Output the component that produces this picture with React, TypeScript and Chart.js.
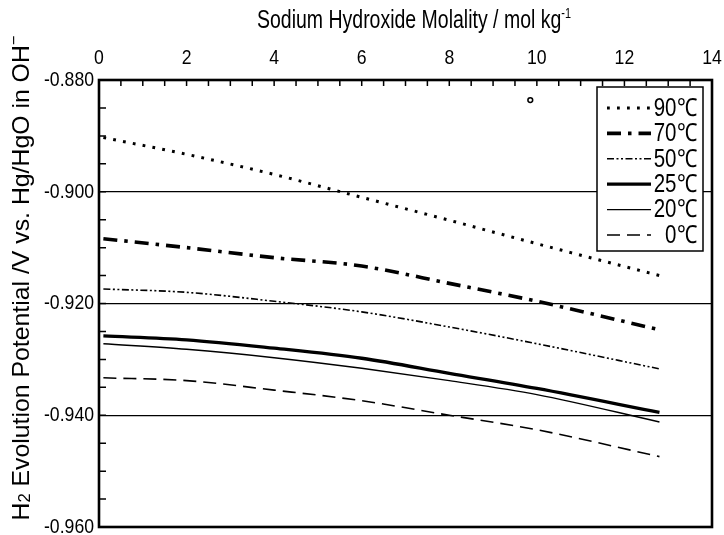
import { useEffect, useRef } from "react";
import { Chart, registerables } from "chart.js";

Chart.register(...registerables);

const FONT = "'Liberation Sans', Arial, sans-serif";

// NaOH molality (mol/kg) at which each curve is sampled
const molality = [0.1, 2, 4, 6, 8, 10, 12.8];

// H2 evolution potential (V vs. Hg/HgO) per temperature
const temperatures = ["90℃", "70℃", "50℃", "25℃", "20℃", "0℃"];
const potential90 = [-0.8903, -0.8933, -0.8969, -0.901, -0.9051, -0.9093, -0.915];
const potential70 = [-0.9084, -0.91, -0.9118, -0.9133, -0.9164, -0.9196, -0.9247];
const potential50 = [-0.9174, -0.918, -0.9196, -0.9215, -0.9242, -0.9272, -0.9317];
const potential25 = [-0.9258, -0.9265, -0.928, -0.9298, -0.9325, -0.9352, -0.9395];
const potential20 = [-0.9272, -0.9282, -0.9297, -0.9316, -0.9338, -0.9363, -0.9412];
const potential0 = [-0.9333, -0.9338, -0.9355, -0.9374, -0.94, -0.9426, -0.9474];
const potentials = [potential90, potential70, potential50, potential25, potential20, potential0];

// small open circle near the top of the plot
const markerX = [9.85];
const markerY = [-0.8836];

// axes
const xMin = 0;
const xMax = 14;
const xStep = 2;
const xMinorStep = 0.5;
const yMin = -0.96;
const yMax = -0.88;
const yStep = 0.02;
const yMinorStep = 0.005;

const xTitle = "Sodium Hydroxide Molality / mol kg";
const xTitleSup = "-1";
const yTitleLead = "H";
const yTitleSub = "2";
const yTitleBody = " Evolution Potential /V vs. Hg/HgO in OH";
const yTitleSup = "−";

const lineStyles = [
  { width: 3, dash: [2.8, 7.2] },
  { width: 3.6, dash: [14, 7, 3.5, 7] },
  { width: 1.6, dash: [7, 2.5, 2, 2.5, 2, 2.5] },
  { width: 3.3, dash: [] as number[] },
  { width: 1.4, dash: [] as number[] },
  { width: 1.6, dash: [13, 7] },
];

type Part = { text: string; size: number; dy: number };

// draws mixed-size text centred on (cx, cy), squeezed to the given width
function drawRich(ctx: CanvasRenderingContext2D, parts: Part[], cx: number, cy: number, width: number) {
  let total = 0;
  const widths = parts.map((p) => {
    ctx.font = `${p.size}px ${FONT}`;
    const w = ctx.measureText(p.text).width;
    total += w;
    return w;
  });
  ctx.save();
  ctx.translate(cx, cy);
  ctx.scale(width / total, 1);
  let x = -total / 2;
  ctx.textBaseline = "middle";
  ctx.textAlign = "left";
  parts.forEach((p, i) => {
    ctx.font = `${p.size}px ${FONT}`;
    ctx.fillText(p.text, x, p.dy);
    x += widths[i];
  });
  ctx.restore();
}

// narrow text: regular face compressed horizontally
function drawNarrow(
  ctx: CanvasRenderingContext2D,
  text: string,
  x: number,
  y: number,
  align: CanvasTextAlign,
  size: number,
  sx: number
) {
  ctx.save();
  ctx.translate(x, y);
  ctx.scale(sx, 1);
  ctx.font = `${size}px ${FONT}`;
  ctx.textAlign = align;
  ctx.textBaseline = "middle";
  ctx.fillText(text, 0, 0);
  ctx.restore();
}

const decorPlugin = {
  id: "decor",
  afterDatasetsDraw(chart: any) {
    const { ctx, chartArea: a, scales } = chart;
    const xs = scales.x;
    const ys = scales.y;
    ctx.save();
    ctx.strokeStyle = "#000";
    ctx.fillStyle = "#000";

    // inward minor ticks on the top and left axes
    ctx.lineWidth = 1.5;
    ctx.beginPath();
    for (let v = xMin; v <= xMax + 1e-9; v += xMinorStep) {
      const px = xs.getPixelForValue(v);
      ctx.moveTo(px, a.top);
      ctx.lineTo(px, a.top + 6);
    }
    const nY = Math.round((yMax - yMin) / yMinorStep);
    for (let k = 0; k <= nY; k++) {
      const py = ys.getPixelForValue(yMin + k * yMinorStep);
      ctx.moveTo(a.left, py);
      ctx.lineTo(a.left + 7, py);
    }
    ctx.stroke();

    // legend box
    const lx = 597, ly = 87, lw = 106, lh = 164;
    ctx.fillStyle = "#fff";
    ctx.fillRect(lx, ly, lw, lh);
    ctx.lineWidth = 1.5;
    ctx.strokeRect(lx, ly, lw, lh);
    ctx.fillStyle = "#000";
    chart.data.datasets.forEach((ds: any, i: number) => {
      if (ds.type === "scatter") return;
      const y = 108 + i * 25.4;
      ctx.save();
      ctx.lineWidth = ds.borderWidth;
      ctx.setLineDash(ds.borderDash || []);
      ctx.beginPath();
      ctx.moveTo(607, y);
      ctx.lineTo(651, y);
      ctx.stroke();
      ctx.restore();
      drawNarrow(ctx, ds.label, 697, y + 1, "right", 25, 0.82);
    });

    // frame
    ctx.lineWidth = 2.6;
    ctx.strokeRect(a.left, a.top, a.right - a.left, a.bottom - a.top);
    ctx.restore();
  },
  afterDraw(chart: any) {
    const { ctx, scales } = chart;
    ctx.save();
    ctx.fillStyle = "#000";

    // tick labels
    for (let v = xMin; v <= xMax + 1e-9; v += xStep) {
      drawNarrow(ctx, String(v), scales.x.getPixelForValue(v), 58, "center", 21, 0.84);
    }
    const nY = Math.round((yMax - yMin) / yStep);
    for (let k = 0; k <= nY; k++) {
      const v = yMin + k * yStep;
      drawNarrow(ctx, v.toFixed(3), 94, scales.y.getPixelForValue(v), "right", 21, 0.84);
    }

    // axis titles
    drawRich(
      ctx,
      [
        { text: xTitle, size: 25, dy: 0 },
        { text: xTitleSup, size: 14, dy: -7 },
      ],
      414,
      21,
      314
    );
    ctx.translate(22, 278);
    ctx.rotate(-Math.PI / 2);
    drawRich(
      ctx,
      [
        { text: yTitleLead, size: 24, dy: 0 },
        { text: yTitleSub, size: 16, dy: 4 },
        { text: yTitleBody, size: 24, dy: 0 },
        { text: yTitleSup, size: 16, dy: -7 },
      ],
      0,
      0,
      485
    );
    ctx.restore();
  },
};

const noPadding = (s: any) => {
  s.paddingLeft = 0;
  s.paddingRight = 0;
  s.paddingTop = 0;
  s.paddingBottom = 0;
};

export default function App() {
  const canvasRef = useRef<HTMLCanvasElement | null>(null);

  useEffect(() => {
    if (!canvasRef.current) return;
    const lineSets = temperatures.map((label, i) => ({
      type: "line" as const,
      label,
      data: molality.map((m, j) => ({ x: m, y: potentials[i][j] })),
      borderColor: "#000",
      borderWidth: lineStyles[i].width,
      borderDash: lineStyles[i].dash,
      borderCapStyle: "butt" as const,
      pointRadius: 0,
      fill: false,
      cubicInterpolationMode: "monotone" as const,
    }));
    const markerSet = {
      type: "scatter" as const,
      label: "marker",
      data: markerX.map((m, j) => ({ x: m, y: markerY[j] })),
      pointRadius: 2.4,
      borderWidth: 1.5,
      borderColor: "#000",
      backgroundColor: "#fff",
      showLine: false,
    };

    const chart = new Chart(canvasRef.current, {
      type: "line",
      data: { datasets: [...lineSets, markerSet] as any },
      options: {
        animation: false,
        responsive: false,
        devicePixelRatio: 1,
        layout: { padding: { left: 0, top: 0, right: 12, bottom: 8 }, autoPadding: false } as any,
        plugins: { legend: { display: false }, tooltip: { enabled: false } },
        scales: {
          x: {
            type: "linear",
            position: "top",
            min: xMin,
            max: xMax,
            border: { display: false },
            grid: { display: false, drawTicks: false },
            ticks: { display: false, stepSize: xStep },
            afterFit: (s: any) => {
              s.height = 80;
              noPadding(s);
            },
          },
          y: {
            type: "linear",
            min: yMin,
            max: yMax,
            border: { display: false },
            grid: { color: "#000", lineWidth: 1.3, drawTicks: false },
            ticks: { display: false, stepSize: yStep },
            afterFit: (s: any) => {
              s.width = 99;
              noPadding(s);
            },
          },
        },
      },
      plugins: [decorPlugin],
    });
    return () => chart.destroy();
  }, []);

  return (
    <div style={{ position: "absolute", left: 0, top: 0, width: 724, height: 535, background: "#fff" }}>
      <canvas ref={canvasRef} width={724} height={535} />
    </div>
  );
}
